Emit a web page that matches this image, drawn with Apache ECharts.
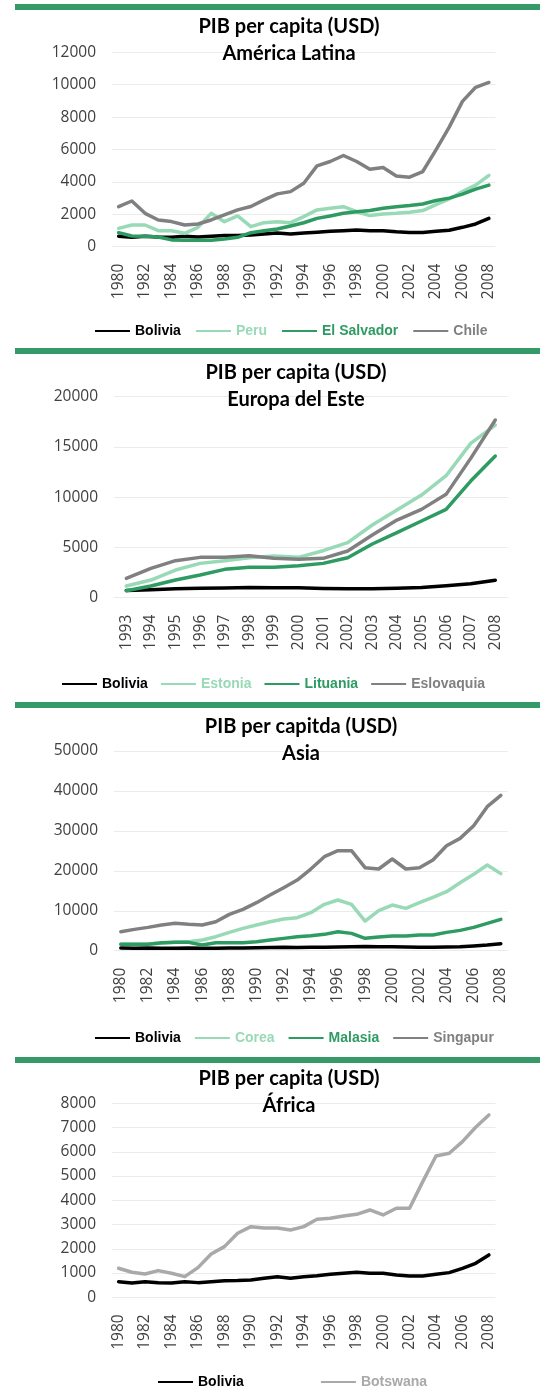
<!DOCTYPE html>
<html>
<head>
<meta charset="utf-8">
<script src="https://cdn.jsdelivr.net/npm/echarts@6/dist/echarts.min.js"></script>
<style>
html,body{margin:0;padding:0;background:#fff;}
#chart{width:540px;height:1398px;}
</style>
</head>
<body>
<div id="chart"></div>
<script>
// ---------- DATA ----------
const years8008 = ['1980','1981','1982','1983','1984','1985','1986','1987','1988','1989','1990','1991','1992','1993','1994','1995','1996','1997','1998','1999','2000','2001','2002','2003','2004','2005','2006','2007','2008'];
const years9308 = ['1993','1994','1995','1996','1997','1998','1999','2000','2001','2002','2003','2004','2005','2006','2007','2008'];

// Panel 1: América Latina
const bolivia = [646,590,646,600,590,646,605,640,687,690,715,783,852,783,852,893,948,990,1031,990,990,921,880,880,948,1017,1196,1402,1746];
const peru = [1134,1340,1340,990,990,825,1196,2060,1546,1900,1237,1485,1546,1485,1855,2270,2370,2470,2160,1920,2020,2060,2120,2230,2600,2950,3400,3800,4400];
const elSalvador = [866,660,640,600,420,400,400,400,470,577,866,990,1090,1280,1480,1750,1900,2060,2160,2230,2370,2470,2540,2640,2850,3000,3250,3550,3800];
const chile = [2470,2820,2060,1650,1550,1340,1400,1650,1960,2270,2480,2890,3260,3400,3920,4990,5260,5630,5260,4780,4890,4370,4290,4640,5980,7380,8970,9840,10140];

// Panel 2: Europa del Este
const bolivia9308 = [720,780,880,930,960,1010,980,980,920,880,880,940,1010,1180,1380,1740];
const estonia = [1161,1758,2753,3416,3682,3980,4146,4013,4677,5473,7231,8723,10216,12139,15357,17181];
const lituania = [697,1161,1758,2255,2819,3018,3018,3184,3416,3980,5340,6468,7629,8789,11609,14096];
const eslovaquia = [1924,2919,3682,4013,4013,4179,3914,3814,3914,4643,6235,7728,8789,10282,13864,17678];

// Panel 3: Asia
const corea = [1586,1600,1670,1836,2087,2254,2671,3506,4591,5593,6427,7262,7930,8264,9516,11603,12688,11603,7429,10017,11436,10601,12020,13356,14775,17028,19115,21452,19300];
const malasia = [1586,1590,1600,2003,2087,2090,1419,2003,2010,2020,2254,2671,3088,3506,3756,4090,4758,4341,3088,3422,3673,3680,3923,3930,4591,5092,5843,6845,7846];
const singapur = [4758,5342,5843,6427,6845,6594,6427,7262,9098,10350,12020,13940,15776,17696,20451,23539,25042,25042,20785,20451,22955,20451,20785,22705,26294,28130,31302,36060,38900];

// Panel 4: África
const botswana = [1196,1031,962,1100,990,852,1223,1787,2090,2640,2914,2860,2860,2777,2914,3216,3258,3354,3423,3601,3395,3670,3670,4770,5828,5938,6419,7010,7519];

// Titles and legend names
const titles = ['PIB per capita (USD)\nAmérica Latina','PIB per capita (USD)\nEuropa del Este','PIB per capitda (USD)\nAsia','PIB per capita (USD)\nÁfrica'];
const names1 = ['Bolivia','Peru','El Salvador','Chile'];
const names2 = ['Bolivia','Estonia','Lituania','Eslovaquia'];
const names3 = ['Bolivia','Corea','Malasia','Singapur'];
const names4 = ['Bolivia','Botswana'];

// ---------- STYLE ----------
const C_BLACK = '#000000', C_LIGHT = '#98d9b6', C_MID = '#2e9b63', C_GREY = '#808080', C_LGREY = '#a9a9a9';
const BAR = '#359a67';
const FONT = 'Lato, "Open Sans", sans-serif';
const TFONT = '"Open Sans", sans-serif';
const LFONT = '"Liberation Sans", Arial, sans-serif';

const panels = [
  {grid:{left:112, top:52.3, width:383.5, height:194.4}, cats:years8008, max:12000, interval:2000, labInt:1,
   title:{x:289, y:13.5}, legend:{left:90, top:318, gap:15}, bar:4,
   series:[[names1[0],bolivia,C_BLACK],[names1[1],peru,C_LIGHT],[names1[2],elSalvador,C_MID],[names1[3],chile,C_GREY]]},
  {grid:{left:114, top:396.7, width:393.6, height:201}, cats:years9308, max:20000, interval:5000, labInt:0,
   title:{x:296, y:359}, legend:{left:57, top:671, gap:13}, bar:348,
   series:[[names2[0],bolivia9308,C_BLACK],[names2[1],estonia,C_LIGHT],[names2[2],lituania,C_MID],[names2[3],eslovaquia,C_GREY]]},
  {grid:{left:114, top:751, width:393.6, height:199.7}, cats:years8008, max:50000, interval:10000, labInt:1,
   title:{x:301, y:713}, legend:{left:90, top:1025, gap:14}, bar:702,
   series:[[names3[0],bolivia,C_BLACK],[names3[1],corea,C_LIGHT],[names3[2],malasia,C_MID],[names3[3],singapur,C_GREY]]},
  {grid:{left:112, top:1103.3, width:383.5, height:194}, cats:years8008, max:8000, interval:1000, labInt:1,
   title:{x:289, y:1065}, legend:{left:153, top:1369, gap:77}, bar:1057,
   series:[[names4[0],bolivia,C_BLACK],[names4[1],botswana,C_LGREY]]}
];

const option = {
  backgroundColor:'#ffffff',
  animation:false,
  title:[], grid:[], xAxis:[], yAxis:[], legend:[], series:[],
  graphic:[]
};

panels.forEach((p,i)=>{
  option.graphic.push({type:'rect', shape:{x:15, y:p.bar, width:525, height:6}, style:{fill:BAR}, silent:true});
  option.title.push({
    text:titles[i], left:p.title.x, top:p.title.y, textAlign:'center', padding:0,
    textStyle:{fontFamily:FONT, fontWeight:'bold', fontSize:20, lineHeight:27, color:'#000'}
  });
  option.grid.push(p.grid);
  option.xAxis.push({
    gridIndex:i, type:'category', data:p.cats, boundaryGap:true,
    axisLine:{show:false}, axisTick:{show:false},
    axisLabel:{interval:p.labInt, rotate:90, margin:17, fontFamily:TFONT, fontSize:15.5, color:'#404040'}
  });
  option.yAxis.push({
    gridIndex:i, type:'value', min:0, max:p.max, interval:p.interval,
    axisLine:{show:false}, axisTick:{show:false},
    splitLine:{lineStyle:{color:'#ebebeb', width:1}},
    axisLabel:{margin:16, fontFamily:TFONT, fontSize:15.5, color:'#404040', formatter:v=>String(v)}
  });
  option.legend.push({
    left:p.legend.left, top:p.legend.top, orient:'horizontal', itemGap:p.legend.gap,
    itemWidth:35, itemHeight:2, icon:'rect', selectedMode:false,
    textStyle:{fontFamily:LFONT, fontWeight:'bold', fontSize:14, lineHeight:16},
    data:p.series.map(s=>({name:s[0], itemStyle:{color:s[2]}, textStyle:{color:s[2], fontFamily:LFONT, fontWeight:'bold', fontSize:14}}))
  });
  p.series.forEach(s=>{
    option.series.push({
      type:'line', name:s[0], data:s[1], xAxisIndex:i, yAxisIndex:i,
      symbol:'none', smooth:false, color:s[2],
      lineStyle:{color:s[2], width:3.5, join:'round', cap:'round'}
    });
  });
});

const chart = echarts.init(document.getElementById('chart'), null, {renderer:'canvas', width:540, height:1398});
chart.setOption(option);
</script>
</body>
</html>
